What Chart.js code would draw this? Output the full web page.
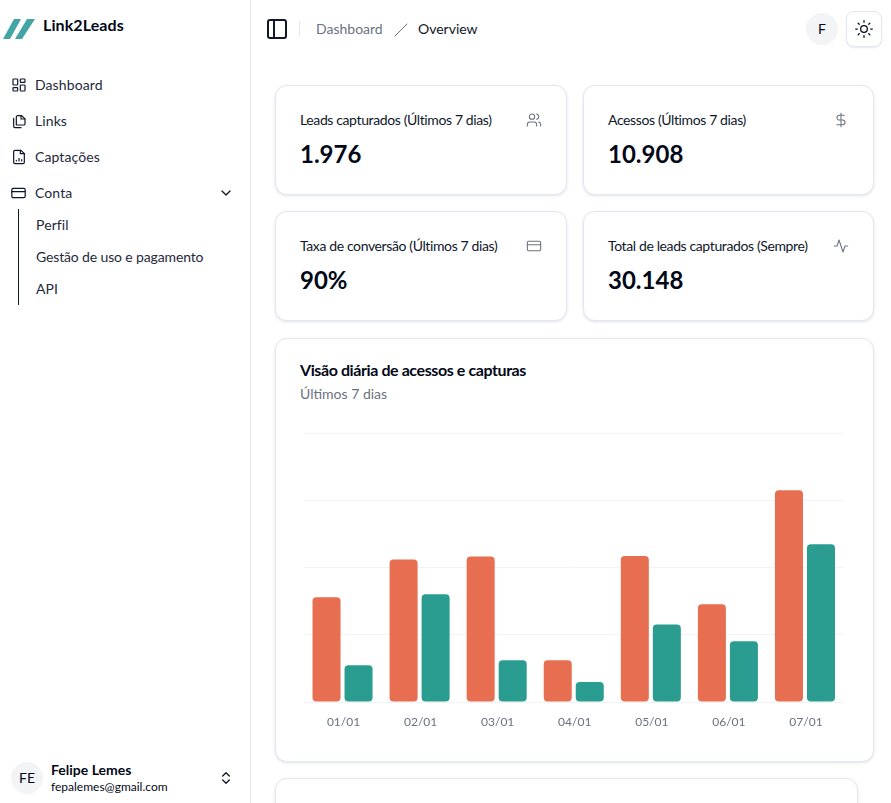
<!DOCTYPE html>
<html lang="pt-BR">
<head>
<meta charset="utf-8">
<title>Link2Leads - Dashboard</title>
<script src="https://cdn.jsdelivr.net/npm/chart.js@4"></script>
<style>
  * { box-sizing: border-box; }
  html, body { margin: 0; width: 891px; height: 803px; overflow: hidden; background: #fff; }
  body { font-family: Lato, sans-serif; color: #020817; position: relative; }
  .abs, .card, .nav, .t { position: absolute; }
  .t { white-space: nowrap; line-height: 20px; }
  svg { position: absolute; fill: none; stroke: currentColor; stroke-width: 2; stroke-linecap: round; stroke-linejoin: round; }

  #sidebar { left: 0; top: 0; width: 251px; height: 803px; border-right: 1px solid #e2e8f0; }
  .nav { font-size: 14px; color: #1e293b; letter-spacing: 0.1px; }
  .navicon { color: #0f172a; stroke-width: 1.8; }

  .card { background: #fff; border: 1px solid #e2e8f0; border-radius: 12px; box-shadow: 0 1px 3px rgba(15, 23, 42, .12); }
  .kpi-label { left: 24px; top: 24px; font-size: 14px; letter-spacing: -0.38px; color: #0f172a; }
  .kpi-value { left: 24px; top: 52px; font-size: 24px; line-height: 32px; font-weight: 700; color: #020817; }
  .kpi-icon { color: #6b7280; stroke-width: 1.6; }

  #chart-box { position: absolute; left: 294px; top: 423px; width: 560px; height: 310px; }
</style>
</head>
<body>

<div id="sidebar" class="abs">
  <svg style="left:3px;top:19px;stroke:none;fill:#45a5a5" width="34" height="20" viewBox="0 0 34 20">
    <polygon points="11,0 18,0 7,20 0,20"/>
    <polygon points="24,0 32,0 19,20 12,20"/>
  </svg>
  <div class="t" style="left:43px;top:15px;font-size:16px;font-weight:700;letter-spacing:0.1px">Link2Leads</div>

  <svg class="navicon" style="left:11px;top:77px" width="16" height="16" viewBox="0 0 24 24">
    <rect x="3" y="3" width="7" height="9" rx="1"/><rect x="14" y="3" width="7" height="5" rx="1"/>
    <rect x="14" y="12" width="7" height="9" rx="1"/><rect x="3" y="16" width="7" height="5" rx="1"/>
  </svg>
  <div class="nav t" style="left:35px;top:75px">Dashboard</div>

  <svg class="navicon" style="left:11px;top:113px" width="16" height="16" viewBox="0 0 24 24">
    <path d="M8 18V6a2 2 0 0 1 2-2h6l5 5v7a2 2 0 0 1-2 2z"/><path d="M15 4v5h6"/><path d="M4 8v12a2 2 0 0 0 2 2h9"/>
  </svg>
  <div class="nav t" style="left:35px;top:111px">Links</div>

  <svg class="navicon" style="left:11px;top:149px" width="16" height="16" viewBox="0 0 24 24">
    <path d="M15 2H6a2 2 0 0 0-2 2v16a2 2 0 0 0 2 2h12a2 2 0 0 0 2-2V7z"/><path d="M14 2v5h6"/><path d="M8 18v-1M12 18v-4M16 18v-2"/>
  </svg>
  <div class="nav t" style="left:35px;top:147px">Captações</div>

  <svg class="navicon" style="left:10px;top:185px" width="17" height="16" viewBox="0 0 24 24">
    <rect x="2" y="5" width="20" height="14" rx="2"/><path d="M2 10h20"/>
  </svg>
  <div class="nav t" style="left:35px;top:183px">Conta</div>
  <svg style="left:218px;top:185px;color:#0f172a" width="16" height="16" viewBox="0 0 24 24"><path d="m6 9 6 6 6-6"/></svg>

  <div class="abs" style="left:18px;top:209px;width:1px;height:96px;background:#0f172a"></div>
  <div class="nav t" style="left:36px;top:215px">Perfil</div>
  <div class="nav t" style="left:36px;top:247px;letter-spacing:-0.14px">Gestão de uso e pagamento</div>
  <div class="nav t" style="left:36px;top:279px">API</div>

  <div class="abs" style="left:11px;top:762px;width:32px;height:32px;border-radius:50%;background:#f3f4f6;font-size:14px;line-height:32px;text-align:center">FE</div>
  <div class="t" style="left:51px;top:760px;font-size:14px;font-weight:700">Felipe Lemes</div>
  <div class="t" style="left:51px;top:777px;font-size:12px">fepalemes@gmail.com</div>
  <svg style="left:218px;top:770px;color:#0f172a" width="16" height="16" viewBox="0 0 24 24"><path d="m7 15 5 5 5-5M7 9l5-5 5 5"/></svg>
</div>

<svg style="left:265px;top:17px;color:#0f172a" width="24" height="24" viewBox="0 0 24 24"><rect x="3" y="3" width="18" height="18" rx="2"/><path d="M9 3v18"/></svg>
<div class="abs" style="left:299px;top:21px;width:1px;height:16px;background:#e2e8f0"></div>
<div class="t" style="left:316px;top:19px;font-size:14px;color:#6b7280">Dashboard</div>
<svg style="left:393px;top:21px;color:#6b7280;stroke-width:1" width="16" height="16" viewBox="0 0 16 16"><path d="M2 15 14 3"/></svg>
<div class="t" style="left:418px;top:19px;font-size:14px;color:#0f172a">Overview</div>
<div class="abs" style="left:806px;top:13px;width:32px;height:32px;border-radius:50%;background:#f3f4f6;font-size:14px;line-height:32px;text-align:center">F</div>
<div class="abs" style="left:846px;top:11px;width:36px;height:36px;border:1px solid #e2e8f0;border-radius:8px;box-shadow:0 1px 2px rgba(15,23,42,.1)">
  <svg style="left:7px;top:7px;stroke-width:1.5" width="20" height="20" viewBox="0 0 24 24">
    <circle cx="12" cy="12" r="4"/><path d="M12 2v2M12 20v2M4.9 4.9l1.4 1.4M17.7 17.7l1.4 1.4M2 12h2M20 12h2M6.3 17.7l-1.4 1.4M19.1 4.9l-1.4 1.4"/>
  </svg>
</div>

<div class="card" style="left:275px;top:85px;width:292px;height:110px">
  <div class="t kpi-label">Leads capturados (Últimos 7 dias)</div>
  <div class="t kpi-value">1.976</div>
  <svg class="kpi-icon" style="left:250px;top:26px" width="16" height="16" viewBox="0 0 24 24"><path d="M16 21v-2a4 4 0 0 0-4-4H6a4 4 0 0 0-4 4v2"/><circle cx="9" cy="7" r="4"/><path d="M22 21v-2a4 4 0 0 0-3-3.9M16 3.1a4 4 0 0 1 0 7.8"/></svg>
</div>
<div class="card" style="left:583px;top:85px;width:291px;height:110px">
  <div class="t kpi-label">Acessos (Últimos 7 dias)</div>
  <div class="t kpi-value">10.908</div>
  <svg class="kpi-icon" style="left:249px;top:26px" width="16" height="16" viewBox="0 0 24 24"><path d="M12 2v20M17 5H9.5a3.5 3.5 0 0 0 0 7h5a3.5 3.5 0 0 1 0 7H6"/></svg>
</div>
<div class="card" style="left:275px;top:211px;width:292px;height:110px">
  <div class="t kpi-label">Taxa de conversão (Últimos 7 dias)</div>
  <div class="t kpi-value">90%</div>
  <svg class="kpi-icon" style="left:250px;top:26px" width="16" height="16" viewBox="0 0 24 24"><rect x="2" y="5" width="20" height="14" rx="2"/><path d="M2 10h20"/></svg>
</div>
<div class="card" style="left:583px;top:211px;width:291px;height:110px">
  <div class="t kpi-label">Total de leads capturados (Sempre)</div>
  <div class="t kpi-value">30.148</div>
  <svg class="kpi-icon" style="left:249px;top:26px" width="16" height="16" viewBox="0 0 24 24"><path d="M22 12h-4l-3 9L9 3l-3 9H2"/></svg>
</div>

<div class="card" style="left:275px;top:338px;width:599px;height:424px">
  <div class="t" style="left:24px;top:21px;font-size:16px;font-weight:700;letter-spacing:-0.41px">Visão diária de acessos e capturas</div>
  <div class="t" style="left:24px;top:45px;font-size:14px;color:#6b7280">Últimos 7 dias</div>
</div>
<div id="chart-box"><canvas id="dailyChart"></canvas></div>
<div class="card" style="left:275px;top:778px;width:583px;height:100px"></div>

<script>
const days = ['01/01', '02/01', '03/01', '04/01', '05/01', '06/01', '07/01'];
const acessos = [1245, 1695, 1730, 496, 1737, 1163, 2519];
const capturas = [437, 1282, 496, 238, 921, 722, 1877];
const yTicks = [0, 800, 1600, 2400, 3200];

const BAR_RADIUS = 4;

new Chart(document.getElementById('dailyChart').getContext('2d'), {
  type: 'bar',
  data: {
    labels: days,
    datasets: [
      { label: 'Acessos', data: acessos, backgroundColor: '#e76e50', borderRadius: BAR_RADIUS, borderSkipped: false },
      { label: 'Capturas', data: capturas, backgroundColor: '#2a9d90', borderRadius: BAR_RADIUS, borderSkipped: false }
    ]
  },
  options: {
    responsive: true,
    maintainAspectRatio: false,
    animation: false,
    layout: { padding: { left: 10, right: 10.5, top: 10, bottom: 0 } },
    plugins: { legend: { display: false }, tooltip: { enabled: false } },
    datasets: { bar: { categoryPercentage: 0.831, barPercentage: 0.875 } },
    scales: {
      x: {
        grid: { display: false },
        border: { display: false },
        ticks: { color: '#6b7280', font: { family: 'Lato', size: 12 }, padding: 5, labelOffset: 1, maxRotation: 0 },
        afterFit: scale => { scale.height = 31; }
      },
      y: {
        display: true,
        min: yTicks[0],
        max: yTicks[yTicks.length - 1],
        afterBuildTicks: scale => { scale.ticks = yTicks.map(value => ({ value })); },
        afterFit: scale => { scale.width = 0; },
        ticks: { display: false },
        border: { display: false },
        grid: { color: '#f1f3f5', drawTicks: false }
      }
    }
  }
});
</script>
</body>
</html>
